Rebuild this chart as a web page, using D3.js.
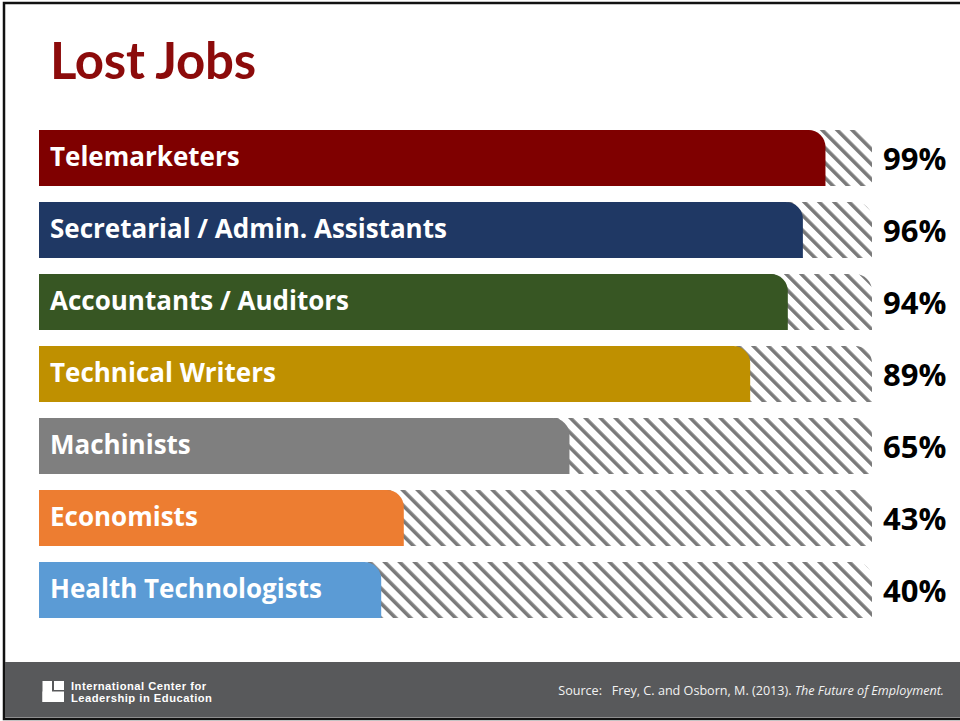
<!DOCTYPE html>
<html>
<head>
<meta charset="utf-8">
<script src="https://cdn.jsdelivr.net/npm/d3@7"></script>
<style>
  html, body { margin: 0; padding: 0; background: #fff; }
  svg { display: block; }
</style>
</head>
<body>
<script>
// ---- data ----
const title = "Lost Jobs";
const categories = [
  "Telemarketers",
  "Secretarial / Admin. Assistants",
  "Accountants / Auditors",
  "Technical Writers",
  "Machinists",
  "Economists",
  "Health Technologists"
];
const values = [99, 96, 94, 89, 65, 43, 40];
const palette = ["#7f0000", "#1f3864", "#375623", "#bf9000", "#7f7f7f", "#ed7d31", "#5b9bd5"];
const logoLines = ["International Center for", "Leadership in Education"];
const sourcePrefix = "Source:   Frey, C. and Osborn, M. (2013). ";
const sourceTitle = "The Future of Employment.";

// ---- layout ----
const W = 960, H = 721;
const barLeft = 39, trackRight = 872, radius = 17;

const svg = d3.select("body").append("svg")
  .attr("width", W).attr("height", H);

const defs = svg.append("defs");
const pat = defs.append("pattern")
  .attr("id", "hatch")
  .attr("patternUnits", "userSpaceOnUse")
  .attr("width", 10.6).attr("height", 10.6)
  .attr("patternTransform", "rotate(-45)");
pat.append("rect").attr("width", 10.6).attr("height", 10.6).attr("fill", "#ffffff");
pat.append("rect").attr("x", 0).attr("width", 3.6).attr("height", 10.6).attr("fill", "#7a7a7a");

// slide border
svg.append("rect")
  .attr("x", 4).attr("y", 3).attr("width", W + 10).attr("height", 716)
  .attr("fill", "#fff").attr("stroke", "#111").attr("stroke-width", 2.5);

// title
svg.append("text")
  .attr("x", 50).attr("y", 79)
  .attr("font-family", "Lato, sans-serif")
  .attr("font-weight", 700)
  .attr("font-size", 51)
  .attr("letter-spacing", -0.3)
  .attr("fill", "#8c0b0b")
  .text(title);

// scales
const y = d3.scaleBand()
  .domain(categories)
  .range([122, 626])
  .paddingInner(16 / 72)
  .paddingOuter(8 / 72);

const x = d3.scaleLinear().domain([0, 100]).range([80, 833]);

function roundedRight(x0, x1, y0, h, r) {
  const p = d3.path();
  p.moveTo(x0, y0);
  p.lineTo(x1 - r, y0);
  p.arcTo(x1, y0, x1, y0 + r, r);
  p.lineTo(x1, y0 + h);
  p.lineTo(x0, y0 + h);
  p.closePath();
  return p.toString();
}

const rows = svg.append("g").selectAll("g")
  .data(categories.map((c, i) => ({ c, v: values[i], i })))
  .join("g");

// hatched track
rows.append("path")
  .attr("d", d => roundedRight(barLeft, trackRight, y(d.c), y.bandwidth(), radius))
  .attr("fill", "url(#hatch)");

// bar
rows.append("path")
  .attr("d", d => roundedRight(barLeft, x(d.v), y(d.c), y.bandwidth(), radius))
  .attr("fill", d => palette[d.i]);

// category labels
rows.append("text")
  .attr("x", 50)
  .attr("y", d => y(d.c) + 36)
  .attr("font-family", "Open Sans, sans-serif")
  .attr("font-weight", 700)
  .attr("font-size", 26)
  .attr("fill", "#fff")
  .text(d => d.c);

// value labels
rows.append("text")
  .attr("x", 883)
  .attr("y", d => y(d.c) + 40)
  .attr("font-family", "Open Sans, sans-serif")
  .attr("font-weight", 700)
  .attr("font-size", 31)
  .attr("fill", "#000")
  .text(d => d.v + "%");

// footer
svg.append("rect")
  .attr("x", 5).attr("y", 662).attr("width", W).attr("height", 55.5)
  .attr("fill", "#58595b");

const logo = svg.append("g").attr("fill", "#fff");
logo.append("rect").attr("x", 42.5).attr("y", 681).attr("width", 9.5).attr("height", 21);
logo.append("rect").attr("x", 42.5).attr("y", 691.5).attr("width", 21.5).attr("height", 10.5);
logo.append("rect").attr("x", 54).attr("y", 681).attr("width", 10).attr("height", 9);

svg.append("g").selectAll("text")
  .data(logoLines)
  .join("text")
  .attr("x", 71)
  .attr("y", (d, i) => 689.6 + i * 12.6)
  .attr("font-family", "Liberation Sans, Arial, sans-serif")
  .attr("font-weight", 700)
  .attr("font-size", 11.2)
  .attr("letter-spacing", 0.5)
  .attr("fill", "#fff")
  .text(d => d);

const src = svg.append("text")
  .attr("x", 944).attr("y", 695)
  .attr("text-anchor", "end")
  .attr("font-family", "Open Sans, sans-serif")
  .attr("font-size", 12.6)
  .attr("fill", "#f2f2f2");
src.append("tspan").style("white-space", "pre").text(sourcePrefix);
src.append("tspan").attr("font-style", "italic").text(sourceTitle);
</script>
</body>
</html>
